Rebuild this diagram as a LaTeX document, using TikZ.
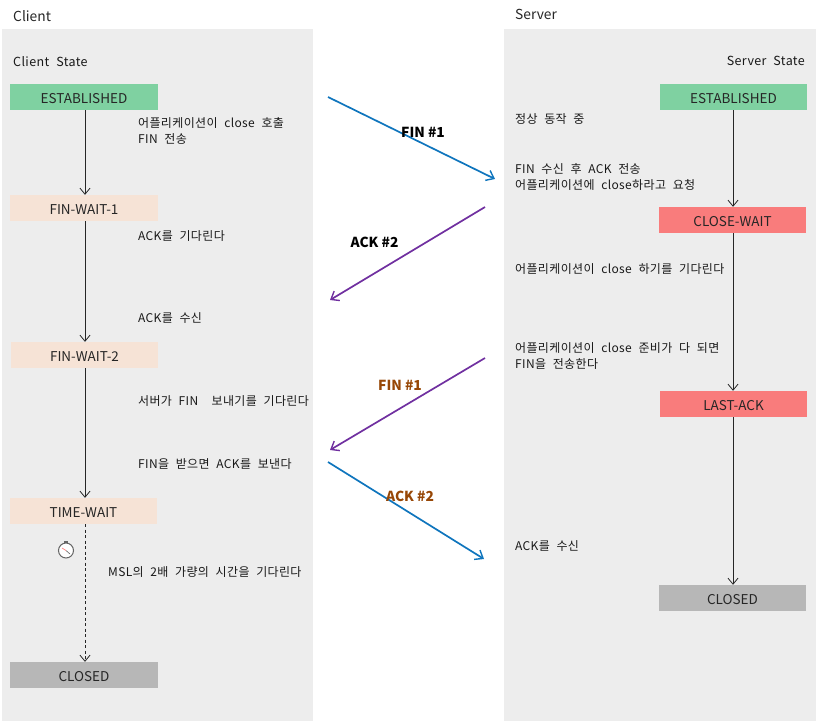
\documentclass[tikz,border=0pt]{standalone}
\usepackage{fontspec}
\setmainfont{Noto Sans CJK KR}
\newfontfamily\notefont[WordSpace=2.2,LetterSpace=3]{Noto Sans CJK KR}
\usetikzlibrary{arrows.meta}
\definecolor{panelgray}{HTML}{EDEDED}
\definecolor{stgreen}{HTML}{7FD1A1}
\definecolor{stpeach}{HTML}{F6E3D6}
\definecolor{stred}{HTML}{F97C7C}
\definecolor{stgray}{HTML}{B7B7B7}
\definecolor{msgblue}{HTML}{0F75BD}
\definecolor{msgpurple}{HTML}{7030A0}
\definecolor{lblbrown}{HTML}{974706}
\tikzset{
  panel/.style={fill=panelgray,draw=none,anchor=north west,inner sep=0pt},
  state/.style={anchor=center,minimum width=147.5pt,minimum height=26pt,inner sep=0pt,text height=13pt,text depth=0pt,font=\fontsize{13.5}{14}\selectfont,text=black!85},
  flow/.style={draw=black!85,line width=0.9pt,-{Straight Barb[length=6pt,width=10pt,line width=0.8pt]}},
  flowdash/.style={flow,dash pattern=on 3pt off 2.5pt},
  msg/.style={line width=1.7pt,-{Straight Barb[length=7pt,width=11pt,line width=1.4pt]}},
  note/.style={anchor=north west,inner sep=0pt,align=left,font=\notefont\fontsize{12}{16}\selectfont,text=black!90},
  msglbl/.style={anchor=center,inner sep=0pt,font=\fontsize{13.8}{14}\selectfont\bfseries},
  title/.style={anchor=west,inner sep=0pt,font=\fontsize{13.8}{16}\selectfont,text=black!85},
  sub/.style={anchor=west,inner sep=0pt,font=\notefont\fontsize{12.5}{14}\selectfont,text=black!90}
}
\begin{document}
\begin{tikzpicture}[x=1pt,y=-1pt]
\useasboundingbox (0,0) rectangle (816,721);
\node[panel,minimum width=311pt,minimum height=692pt] (lpanel) at (2,29) {};
\node[panel,minimum width=312pt,minimum height=692pt] (rpanel) at (504,29) {};
\node[title] (tclient) at (13,16) {Client};
\node[title] (tserver) at (515,14.5) {Server};
\node[sub] (cstate) at (13,61.5) {Client State};
\node[sub,anchor=east] (sstate) at (805,60.5) {Server State};
% client states
\node[state,fill=stgreen] (cest) at (84,97) {ESTABLISHED};
\node[state,fill=stpeach] (cfw1) at (84,208) {FIN-WAIT-1};
\node[state,fill=stpeach] (cfw2) at (84.5,355) {FIN-WAIT-2};
\node[state,fill=stpeach] (ctw) at (83.5,511) {TIME-WAIT};
\node[state,fill=stgray] (ccl) at (84,675) {CLOSED};
% server states
\node[state,fill=stgreen] (sest) at (733.5,97) {ESTABLISHED};
\node[state,fill=stred] (scw) at (732.5,220) {CLOSE-WAIT};
\node[state,fill=stred] (sla) at (733.5,404) {LAST-ACK};
\node[state,fill=stgray] (scl) at (732.5,598) {CLOSED};
% state flows
\draw[flow] (cest.south -| 85,0) -- (cfw1.north -| 85,0);
\draw[flow] (cfw1.south -| 85,0) -- (cfw2.north -| 85,0);
\draw[flow] (cfw2.south -| 85,0) -- (ctw.north -| 85,0);
\draw[flowdash] (ctw.south -| 85,0) -- (ccl.north -| 85,0);
\draw[flow] (sest.south -| 733,0) -- (scw.north -| 733,0);
\draw[flow] (scw.south -| 733,0) -- (sla.north -| 733,0);
\draw[flow] (sla.south -| 733,0) -- (scl.north -| 733,0);
% message coordinates
\coordinate (m1a) at (328,97);
\coordinate (m1b) at (495,179);
\coordinate (m2a) at (485,207);
\coordinate (m2b) at (330,300);
\coordinate (m3a) at (485,358);
\coordinate (m3b) at (330,450);
\coordinate (m4a) at (328,462);
\coordinate (m4b) at (484,559);
\draw[msg,msgblue] (m1a) -- (m1b);
\draw[msg,msgpurple] (m2a) -- (m2b);
\draw[msg,msgpurple] (m3a) -- (m3b);
\draw[msg,msgblue] (m4a) -- (m4b);
\node[msglbl] (l1) at (423,132) {FIN \#1};
\node[msglbl] (l2) at (374.5,242) {ACK \#2};
\node[msglbl,text=lblbrown] (l3) at (400,385) {FIN \#1};
\node[msglbl,text=lblbrown] (l4) at (410,496) {ACK \#2};
% client notes
\node[note] (n1) at (138,117) {어플리케이션이  close 호출\\FIN 전송};
\node[note] (n2) at (138,230) {ACK를 기다린다};
\node[note] (n3) at (138,312) {ACK를 수신};
\node[note] (n4) at (138,395) {서버가 FIN~ 보내기를 기다린다};
\node[note] (n5) at (138,458) {FIN을 받으면 ACK를 보낸다};
\node[note] (n6) at (108,566) {MSL의 2배 가량의 시간을 기다린다};
% server notes
\node[note] (n7) at (515,113) {정상  동작  중};
\node[note] (n8) at (515,163) {FIN  수신  후   ACK 전송\\어플리케이션에  close하라고  요청};
\node[note] (n9) at (515,263) {어플리케이션이  close 하기를 기다린다};
\node[note] (n10) at (515,342) {어플리케이션이  close 준비가 다 되면\\FIN을 전송한다};
\node[note] (n11) at (515,540) {ACK를 수신};
% stopwatch
\fill[black!60] (64,540.5) rectangle (68,542.5);
\draw[black!60,line width=0.8pt] (66,542.5) -- (66,543.5);
\draw[black!60,line width=1pt,fill=white] (66,550.5) circle (7.5);
\draw[red!50,line width=0.7pt] (66,550.5) -- (62,548);
\draw[black!60,line width=0.6pt] (66,550.5) -- (70,554);
\end{tikzpicture}
\end{document}
